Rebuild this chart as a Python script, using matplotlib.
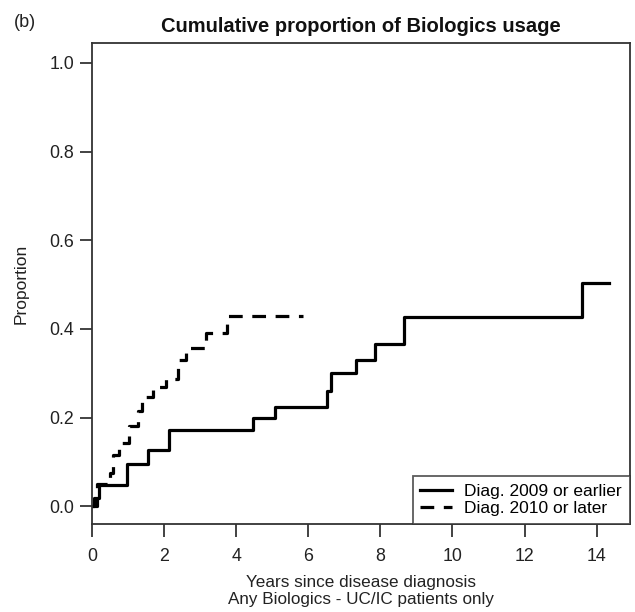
import matplotlib.pyplot as plt

plt.rcParams['font.family'] = ['Liberation Sans', 'DejaVu Sans']

# cumulative proportion, diagnosed 2009 or earlier (step times in years)
t_early = [0, 0.06, 0.18, 0.96, 1.56, 2.13, 4.47, 5.07, 6.51, 6.64, 7.32, 7.85, 8.66, 13.58, 14.34]
p_early = [0, 0.018, 0.047, 0.096, 0.126, 0.172, 0.198, 0.224, 0.26, 0.30, 0.331, 0.365, 0.426, 0.504, 0.504]

# cumulative proportion, diagnosed 2010 or later
t_late = [0, 0.15, 0.5, 0.59, 0.76, 1.03, 1.28, 1.38, 1.68, 2.05, 2.39, 2.62, 3.17, 3.75, 5.86]
p_late = [0, 0.05, 0.075, 0.115, 0.143, 0.18, 0.215, 0.247, 0.268, 0.288, 0.33, 0.357, 0.39, 0.429, 0.429]

x_ticks = [0, 2, 4, 6, 8, 10, 12, 14]
y_ticks = [0.0, 0.2, 0.4, 0.6, 0.8, 1.0]

fig = plt.figure(figsize=(6.35, 6.12), dpi=100)
ax = fig.add_axes([0.1449, 0.1438, 0.847, 0.786])

ax.step(t_early, p_early, where="post", color="black", lw=2.3,
        label="Diag. 2009 or earlier")
ax.step(t_late, p_late, where="post", color="black", lw=2.3,
        linestyle=(0, (4.3, 3)), label="Diag. 2010 or later")

ax.set_xlim(0, 14.92)
ax.set_ylim(-0.04, 1.045)
ax.set_xticks(x_ticks)
ax.set_yticks(y_ticks)
ax.set_yticklabels([f"{v:.1f}" for v in y_ticks])
ax.tick_params(direction="out", length=9, width=1.2, labelsize=12.8,
               colors="#222222", pad=4)
ax.tick_params(axis="x", pad=8)
for s in ax.spines.values():
    s.set_linewidth(1.3)
    s.set_color("#333333")

ax.set_ylabel("Proportion", fontsize=12.5, color="#222222")
ax.yaxis.set_label_coords(-0.117, 0.5)
ax.set_xlabel("Years since disease diagnosis\nAny Biologics - UC/IC patients only",
              fontsize=12.3, color="#222222", linespacing=1.15)
ax.xaxis.set_label_coords(0.5, -0.106)
ax.set_title("Cumulative proportion of Biologics usage", fontsize=14.5,
             fontweight="bold", color="#111111", pad=8)
fig.text(0.022, 0.963, "(b)", fontsize=13, color="#222222", va="center")

leg = ax.legend(loc="lower right", fontsize=12.5, frameon=True, fancybox=False,
                borderaxespad=0, handlelength=1.8, handletextpad=0.74,
                borderpad=0.45, labelspacing=0.1)
leg.get_frame().set_edgecolor("#333333")
leg.get_frame().set_linewidth(1.3)

plt.savefig("out.png", dpi=100)
